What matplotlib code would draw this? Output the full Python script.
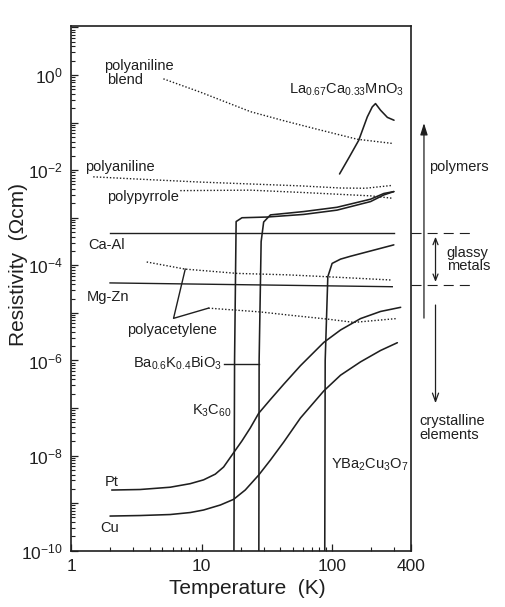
import matplotlib.pyplot as plt
import numpy as np
from matplotlib.ticker import LogLocator, FuncFormatter, NullFormatter, FixedLocator
from matplotlib.transforms import blended_transform_factory

plt.rcParams['font.family'] = ['Liberation Sans', 'DejaVu Sans']
plt.rcParams['mathtext.fontset'] = 'custom'
plt.rcParams['mathtext.rm'] = 'Liberation Sans'
plt.rcParams['mathtext.it'] = 'Liberation Sans:italic'
plt.rcParams['mathtext.bf'] = 'Liberation Sans:bold'
plt.rcParams['mathtext.default'] = 'regular'

INK = '#1f1f1f'

# temperature (K) and log10 of resistivity (ohm cm)
blend_T = [5.1, 9.8, 23.7, 42.6, 76.9, 156, 294]
blend_lr = [-0.08, -0.36, -0.77, -0.96, -1.14, -1.35, -1.44]

pani_T = [1.48, 4.04, 9.77, 23.6, 57.2, 116, 180, 289]
pani_lr = [-2.14, -2.20, -2.25, -2.29, -2.33, -2.375, -2.38, -2.32]

ppy_T = [6.87, 23.6, 60.6, 197, 289]
ppy_lr = [-2.43, -2.42, -2.47, -2.54, -2.59]

lcmo_T = [114, 135, 160, 186, 203, 215, 235, 265, 298]
lcmo_lr = [-2.08, -1.73, -1.37, -0.88, -0.67, -0.60, -0.74, -0.89, -0.95]

caal_T = [1.99, 297]
caal_lr = [-3.33, -3.33]

mgzn_T = [1.99, 289]
mgzn_lr = [-4.37, -4.45]

pac1_T = [3.8, 7.5, 18.7, 45.2, 91.7, 289]
pac1_lr = [-3.93, -4.08, -4.17, -4.20, -4.24, -4.31]

pac2_T = [11.3, 28.2, 48, 91.7, 147, 310]
pac2_lr = [-4.90, -4.98, -5.05, -5.13, -5.20, -5.12]

k3c60_T = [17.6, 17.9, 18.4, 20.4, 31.8, 60.6, 109, 197, 249, 297]
k3c60_lr = [-12, -6.0, -3.08, -3.0, -2.985, -2.93, -2.84, -2.66, -2.52, -2.45]

bkbo_T = [27.4, 27.6, 28.6, 29.9, 33.7, 60.6, 109, 197, 249, 297]
bkbo_lr = [-12, -6.0, -3.5, -3.09, -2.94, -2.87, -2.78, -2.61, -2.49, -2.45]

ybco_T = [87.5, 88.5, 92.7, 100, 116, 138, 297]
ybco_lr = [-12, -6.0, -4.24, -3.96, -3.87, -3.81, -3.57]

pt_T = [2.05, 3.38, 5.75, 8.19, 10.36, 12.74, 14.75, 17.6, 20.4, 23.6,
        27.4, 33.7, 42.6, 57.2, 86.4, 116, 165, 235, 335]
pt_lr = [-8.724, -8.713, -8.665, -8.59, -8.51, -8.39, -8.24, -7.94,
         -7.69, -7.42, -7.11, -6.82, -6.50, -6.11, -5.62, -5.36,
         -5.12, -4.97, -4.883]

cu_T = [1.99, 3.38, 5.75, 8.19, 10.36, 13.92, 17.6, 21.6, 27.4, 33.7,
        42.6, 57.2, 86.4, 116, 165, 235, 316]
cu_lr = [-9.271, -9.260, -9.239, -9.197, -9.144, -9.039, -8.920, -8.724,
         -8.409, -8.093, -7.715, -7.210, -6.64, -6.31, -6.03, -5.79,
         -5.627]

x_ticks = [1, 10, 100, 400]
x_tick_labels = ['1', '10', '100', '400']


def r(lr):
    return 10.0 ** np.asarray(lr, dtype=float)


fig = plt.figure(figsize=(5.05, 6.07), dpi=100)
ax = fig.add_axes([0.1406, 0.0927, 0.6727, 0.8644])
ax.set_xscale('log')
ax.set_yscale('log')
ax.set_xlim(1, 400)
ax.set_ylim(1e-10, 10 ** 1.03)

solid = dict(color=INK, lw=1.15, solid_capstyle='round', solid_joinstyle='round')
dotted = dict(color=INK, lw=1.0, linestyle=(0, (1, 1.4)))

ax.plot(blend_T, r(blend_lr), **dotted)
ax.plot(pani_T, r(pani_lr), **dotted)
ax.plot(ppy_T, r(ppy_lr), **dotted)
ax.plot(pac1_T, r(pac1_lr), **dotted)
ax.plot(pac2_T, r(pac2_lr), **dotted)

ax.plot(lcmo_T, r(lcmo_lr), **solid)
ax.plot(caal_T, r(caal_lr), color=INK, lw=1.0)
ax.plot(mgzn_T, r(mgzn_lr), color=INK, lw=1.0)
ax.plot(k3c60_T, r(k3c60_lr), **solid)
ax.plot(bkbo_T, r(bkbo_lr), **solid)
ax.plot(ybco_T, r(ybco_lr), **solid)
ax.plot(pt_T, r(pt_lr), **solid)
ax.plot(cu_T, r(cu_lr), **solid)

# leader lines for labels
ax.plot([pac1_T[1], 6.1, pac2_T[0]], r([pac1_lr[1], -5.115, pac2_lr[0]]),
        color=INK, lw=1.0)
ax.plot([14.8, bkbo_T[0]], r([-6.08, -6.08]), color=INK, lw=1.0)

fs = 10.5
tk = dict(color=INK, fontsize=fs)
ax.text(1.79, 10 ** 0.196, 'polyaniline', va='center', ha='left', **tk)
ax.text(1.90, 10 ** -0.105, 'blend', va='center', ha='left', **tk)
ax.text(46.5, 10 ** -0.39, r'La$_{0.67}$Ca$_{0.33}$MnO$_3$', va='baseline', ha='left', **tk)
ax.text(1.28, 10 ** -1.93, 'polyaniline', va='center', ha='left', **tk)
ax.text(1.88, 10 ** -2.56, 'polypyrrole', va='center', ha='left', **tk)
ax.text(1.36, 10 ** -3.57, 'Ca-Al', va='center', ha='left', **tk)
ax.text(1.32, 10 ** -4.66, 'Mg-Zn', va='center', ha='left', **tk)
ax.text(2.68, 10 ** -5.35, 'polyacetylene', va='center', ha='left', **tk)
ax.text(14.4, 10 ** -6.14, r'Ba$_{0.6}$K$_{0.4}$BiO$_3$', va='baseline', ha='right', **tk)
ax.text(16.9, 10 ** -7.13, r'K$_3$C$_{60}$', va='baseline', ha='right', **tk)
ax.text(97.2, 10 ** -8.27, r'YBa$_2$Cu$_3$O$_7$', va='baseline', ha='left', **tk)
ax.text(2.06, 10 ** -8.55, 'Pt', va='center', ha='center', **tk)
ax.text(1.99, 10 ** -9.53, 'Cu', va='center', ha='center', **tk)

# class annotations on the right, outside the axes
bt = blended_transform_factory(ax.transAxes, ax.transData)
for lr in (-3.33, -4.42):
    ax.plot([1.0, 1.1775], [10 ** lr, 10 ** lr], transform=bt, clip_on=False,
            color=INK, lw=0.8, linestyle=(0, (9, 5.5)))

ax.annotate('', xy=(1.039, 10 ** -1.01), xytext=(1.039, 10 ** -5.11),
            xycoords=('axes fraction', 'data'), textcoords=('axes fraction', 'data'),
            annotation_clip=False,
            arrowprops=dict(arrowstyle='-|>,head_length=0.7,head_width=0.22',
                            color=INK, lw=0.9, shrinkA=0, shrinkB=0))
ax.annotate('', xy=(1.073, 10 ** -6.9), xytext=(1.073, 10 ** -4.835),
            xycoords=('axes fraction', 'data'), textcoords=('axes fraction', 'data'),
            annotation_clip=False,
            arrowprops=dict(arrowstyle='->,head_length=0.6,head_width=0.22',
                            color=INK, lw=0.9, shrinkA=0, shrinkB=0))
ax.annotate('', xy=(1.073, 10 ** -3.40), xytext=(1.073, 10 ** -4.35),
            xycoords=('axes fraction', 'data'), textcoords=('axes fraction', 'data'),
            annotation_clip=False,
            arrowprops=dict(arrowstyle='<->,head_length=0.45,head_width=0.18',
                            color=INK, lw=0.9, shrinkA=0, shrinkB=0))

ax.text(1.054, 10 ** -1.93, 'polymers', transform=bt, va='center', ha='left', **tk)
ax.text(1.106, 10 ** -3.75, 'glassy', transform=bt, va='center', ha='left', **tk)
ax.text(1.106, 10 ** -4.02, 'metals', transform=bt, va='center', ha='left', **tk)
ax.text(1.026, 10 ** -7.27, 'crystalline', transform=bt, va='center', ha='left', **tk)
ax.text(1.026, 10 ** -7.57, 'elements', transform=bt, va='center', ha='left', **tk)

# axes styling
for s in ax.spines.values():
    s.set_linewidth(1.2)
    s.set_color(INK)

ax.xaxis.set_major_locator(FixedLocator(x_ticks))
ax.set_xticklabels(x_tick_labels)
ax.xaxis.set_minor_locator(LogLocator(base=10, subs=np.arange(2, 10), numticks=20))
ax.xaxis.set_minor_formatter(NullFormatter())

ax.yaxis.set_major_locator(LogLocator(base=10, subs=(1.0,), numticks=30))
ax.yaxis.set_minor_locator(LogLocator(base=10, subs=np.arange(2, 10), numticks=30))
ax.yaxis.set_minor_formatter(NullFormatter())


def ylab(v, pos):
    e = int(round(np.log10(v)))
    return r'$10^{%d}$' % e if e % 2 == 0 else ''


ax.yaxis.set_major_formatter(FuncFormatter(ylab))

ax.tick_params(which='both', direction='in', top=False, right=False,
               color=INK, labelcolor=INK)
ax.tick_params(which='major', length=5, width=0.9, labelsize=12.5, pad=6)
ax.tick_params(which='minor', length=2.6, width=0.8)

fig.text(247.5 / 505, 1 - 588 / 607, 'Temperature  (K)', ha='center', va='center',
         fontsize=15, color=INK)
fig.text(18.3 / 505, 1 - 265 / 607, 'Resistivity  (\u03a9cm)', ha='center', va='center',
         rotation=90, fontsize=15, color=INK)

fig.savefig('out.png', dpi=100, facecolor='white')
